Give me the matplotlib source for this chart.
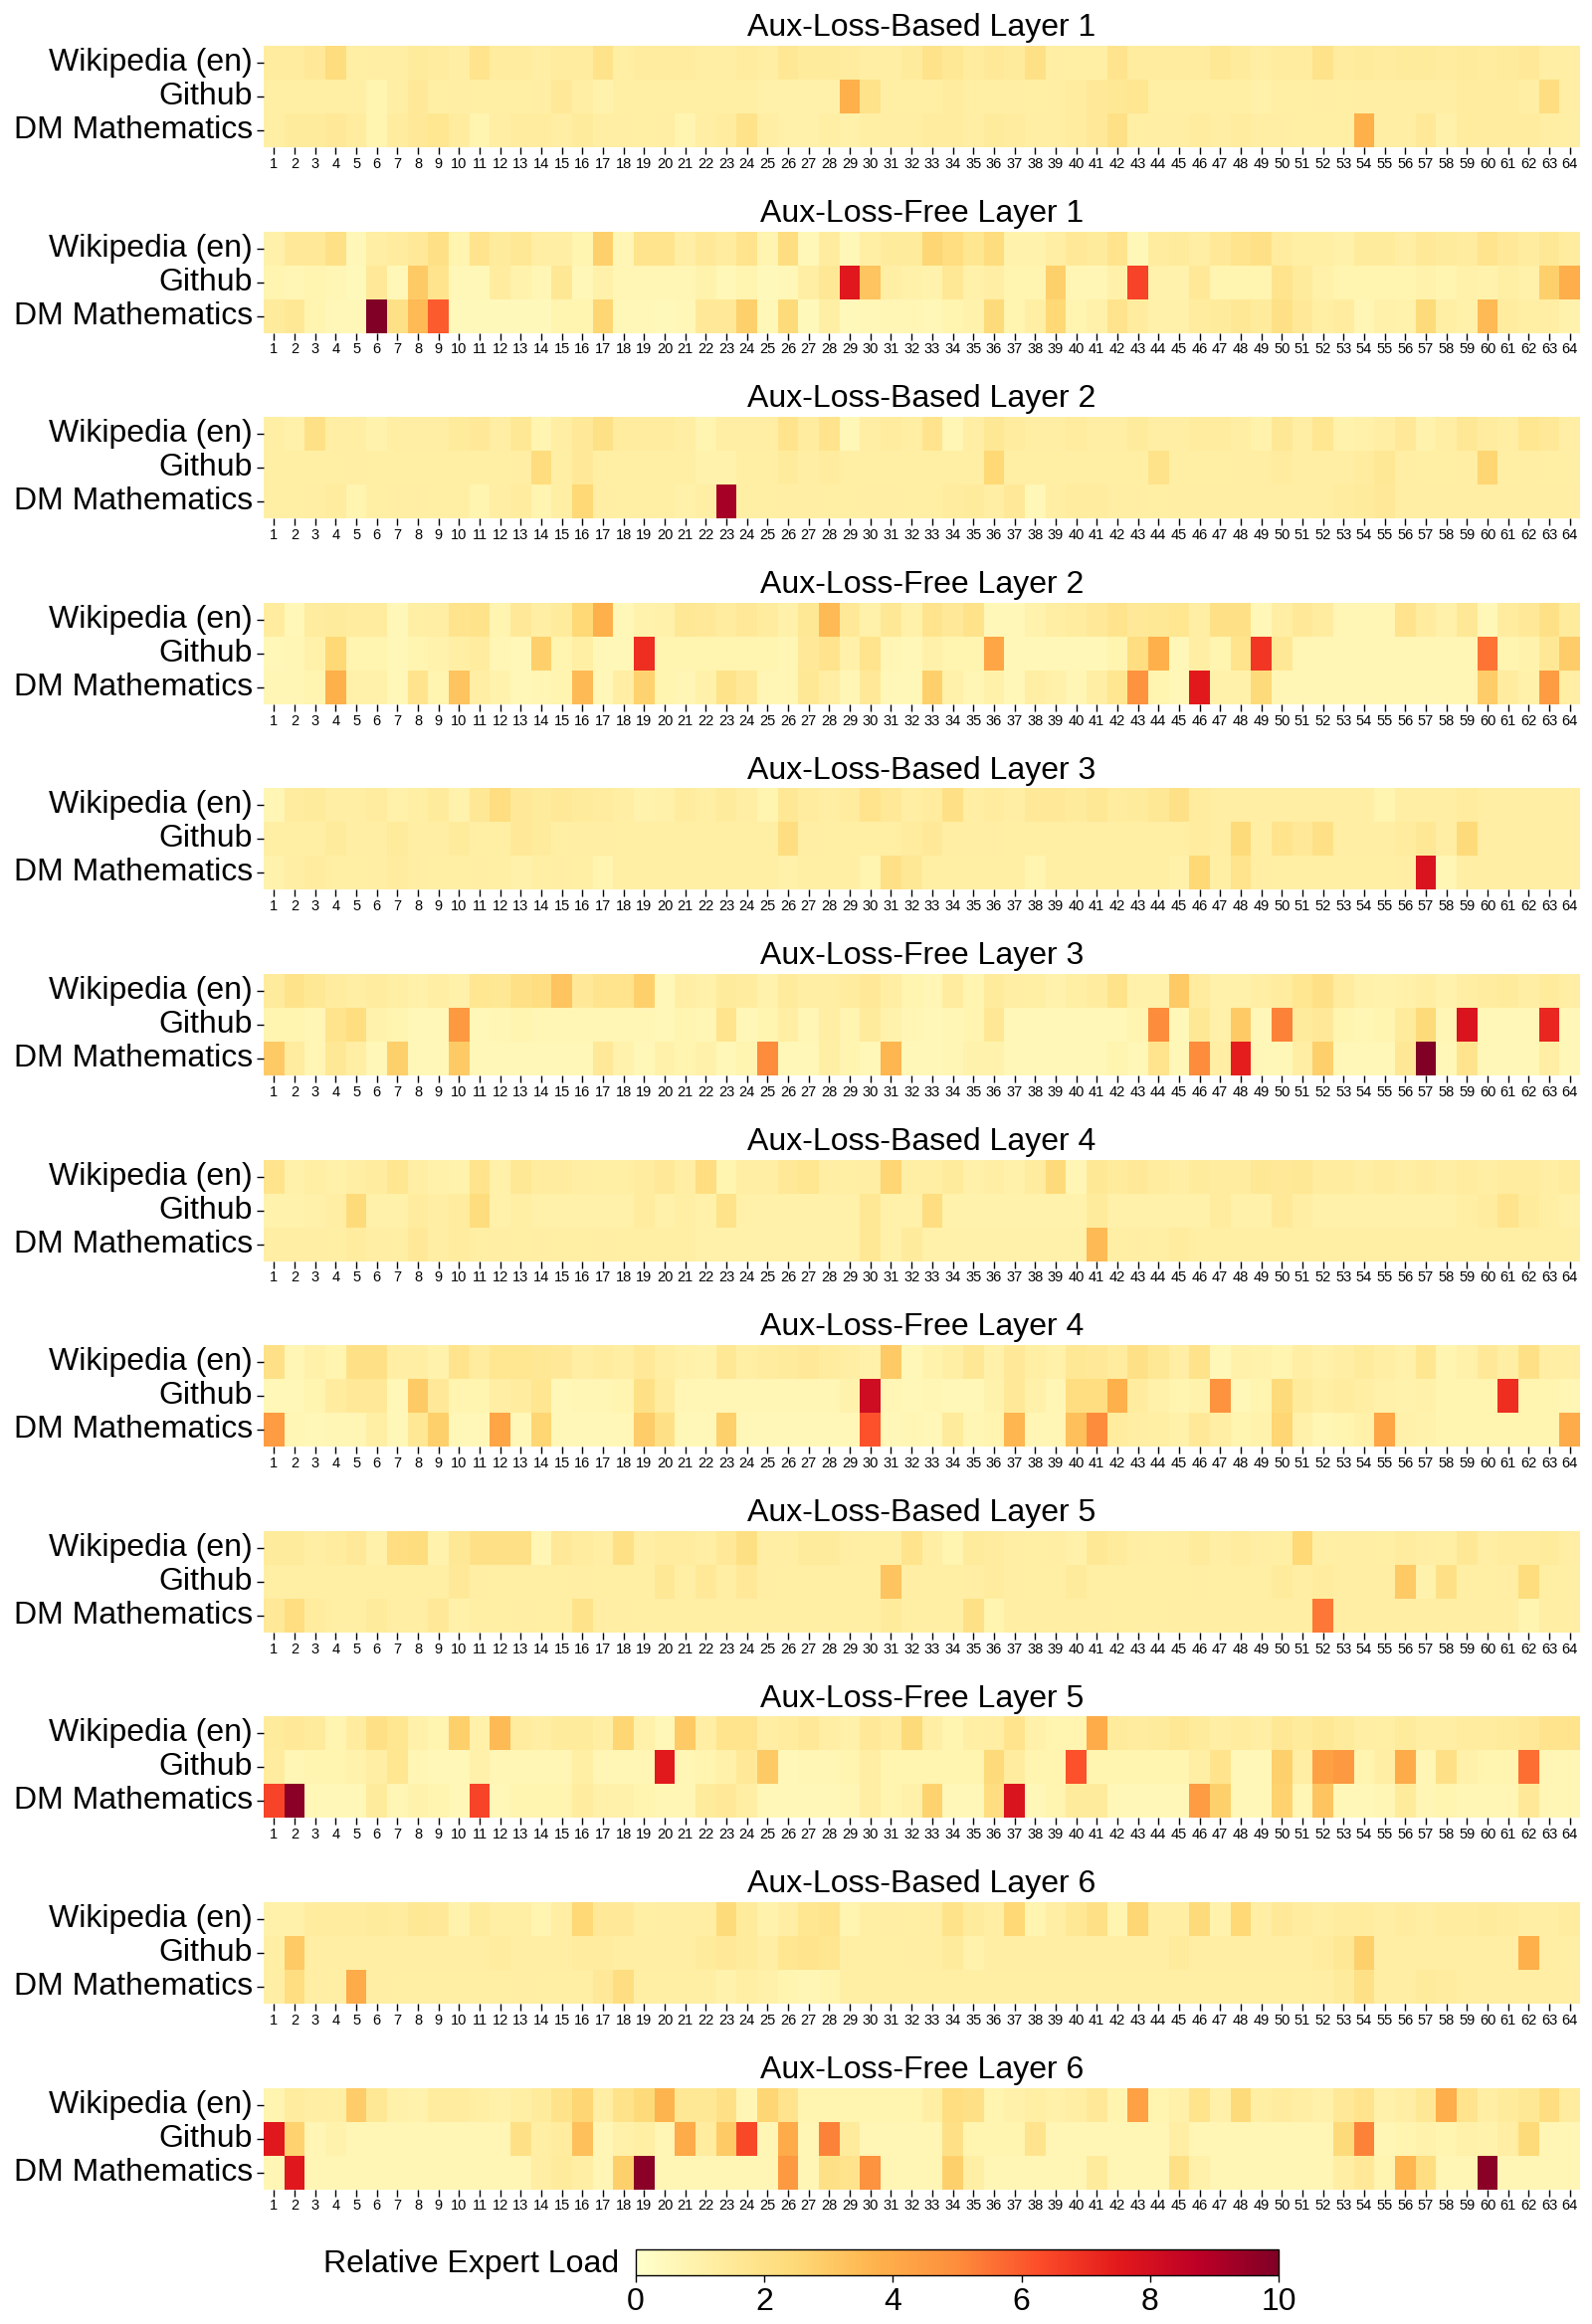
import numpy as np
import matplotlib
matplotlib.use("Agg")
import matplotlib.pyplot as plt

plt.rcParams['font.family'] = ['Liberation Sans', 'DejaVu Sans']

sources = ["Wikipedia (en)", "Github", "DM Mathematics"]
experts = [str(i) for i in range(1, 65)]
titles = ["Aux-Loss-Based Layer 1", "Aux-Loss-Free Layer 1",
          "Aux-Loss-Based Layer 2", "Aux-Loss-Free Layer 2",
          "Aux-Loss-Based Layer 3", "Aux-Loss-Free Layer 3",
          "Aux-Loss-Based Layer 4", "Aux-Loss-Free Layer 4",
          "Aux-Loss-Based Layer 5", "Aux-Loss-Free Layer 5",
          "Aux-Loss-Based Layer 6", "Aux-Loss-Free Layer 6"]
cbar_ticks = [0, 2, 4, 6, 8, 10]

aux_based_l1 = [
    [1.3,1.3,1.5,2.3,1.1,1.2,1.2,1.4, 1.3,1.2,1.8,1.3,1.3,1.2,1.3,1.3,
     1.9,1.1,1.3,1.3,1.3,1.2,1.2,1.3, 1.2,1.6,1.4,1.4,1.3,1.2,1.2,1.4,
     1.9,1.6,1.3,1.5,1.4,2.0,1.2,1.1, 1.1,1.8,1.3,1.3,1.3,1.3,1.6,1.4,
     1.2,1.3,1.3,1.9,1.3,1.4,1.3,1.4, 1.4,1.3,1.4,1.3,1.4,1.5,1.2,1.2],
    [1.1,1.1,1.1,1.1,1.1,0.8,1.1,1.5, 1.1,1.2,1.1,1.1,1.1,1.2,1.5,1.2,
     0.9,1.1,1.1,1.1,1.1,1.1,1.1,1.1, 1.0,1.0,1.0,1.0,3.8,1.9,1.1,1.1,
     1.1,1.3,1.1,1.1,1.2,1.1,1.2,1.3, 1.5,1.6,1.7,1.1,1.1,1.1,1.1,1.1,
     1.0,1.1,1.1,1.2,1.1,1.2,1.2,1.2, 1.2,1.2,1.3,1.3,1.3,1.2,2.2,1.2],
    [1.1,1.4,1.4,1.5,1.3,0.8,1.3,1.5, 1.7,1.3,0.8,1.2,1.3,1.3,1.2,1.4,
     1.2,1.2,1.1,1.2,0.8,1.2,1.3,1.9, 1.2,1.0,1.0,1.1,1.0,1.1,1.2,1.2,
     1.3,1.3,1.2,1.4,1.3,1.2,1.2,1.3, 1.5,2.0,1.1,1.2,1.2,1.3,1.2,1.3,
     1.2,1.2,1.1,1.1,1.1,3.8,1.2,1.2, 1.5,1.0,1.3,1.3,1.3,1.3,1.2,1.1]]

aux_free_l1 = [
    [1.0,1.5,1.5,2.0,0.6,1.2,1.3,1.5, 2.0,0.8,1.8,1.4,1.6,1.2,1.2,0.8,
     2.8,0.7,1.8,1.8,1.2,1.5,1.3,1.8, 0.8,2.2,0.6,1.3,0.6,1.1,1.4,1.4,
     2.6,2.2,1.7,2.3,0.9,0.9,1.2,1.5, 1.4,1.8,0.6,1.3,1.4,1.2,1.5,1.8,
     2.0,1.3,1.1,1.1,1.0,1.4,1.4,1.2, 1.5,1.4,1.3,1.8,1.5,1.3,1.6,1.3],
    [0.8,0.7,0.8,0.7,0.5,1.5,0.6,3.0, 1.8,0.6,0.6,1.3,0.9,0.7,1.6,0.6,
     1.0,0.7,0.7,0.7,0.7,0.9,0.6,0.8, 0.5,0.6,1.2,1.6,7.6,3.2,1.1,1.0,
     0.9,1.6,1.0,1.2,0.8,0.8,2.8,0.7, 0.7,1.0,6.5,0.9,0.9,1.5,0.8,0.8,
     0.8,1.8,1.4,1.0,0.8,0.8,0.8,0.8, 0.9,0.8,1.0,0.9,1.1,1.0,2.8,3.9],
    [1.4,1.6,0.8,0.6,0.6,10.0,2.0,3.5, 6.0,0.5,0.5,0.5,0.5,0.5,0.8,0.8,
     2.6,0.6,0.6,0.5,0.6,1.5,1.5,2.8, 0.6,2.4,0.5,1.1,0.5,0.6,0.7,0.7,
     0.6,0.8,0.9,2.4,0.8,1.1,2.5,0.8, 1.0,1.8,1.3,1.0,1.0,1.3,1.4,1.6,
     1.4,2.0,1.5,1.1,1.3,0.7,1.0,0.9, 2.4,1.1,1.0,3.5,1.3,1.1,1.2,0.9]]

aux_based_l2 = [
    [1.1,1.0,2.0,1.2,1.2,0.9,1.2,1.2, 1.2,1.4,1.5,1.2,1.6,0.8,1.2,1.5,
     2.0,1.3,1.3,1.3,1.2,0.8,1.2,1.2, 1.2,1.8,1.3,1.8,0.6,1.2,1.3,1.2,
     1.8,0.7,1.2,1.6,1.3,1.2,1.2,1.3, 1.2,1.2,1.4,1.2,1.2,1.3,1.3,1.2,
     0.9,1.6,1.2,1.7,0.9,1.0,1.2,1.5, 0.9,1.2,1.6,1.3,1.2,1.7,1.5,1.2],
    [1.1,1.1,1.1,1.1,1.2,1.1,1.1,1.1, 1.1,1.1,1.1,1.1,1.2,2.3,1.1,1.5,
     1.1,1.1,1.1,1.1,1.1,0.9,0.9,1.1, 1.1,1.4,1.2,1.3,1.1,1.1,1.1,1.1,
     1.1,1.1,1.1,2.5,1.1,1.1,1.1,1.1, 1.1,1.1,1.1,1.9,1.1,1.1,1.1,1.2,
     1.2,1.3,1.2,1.2,1.2,1.3,1.6,1.2, 1.1,1.1,1.2,2.6,1.1,1.2,1.1,1.1],
    [1.1,1.1,1.2,1.3,0.8,1.1,1.2,1.2, 1.1,1.1,0.8,1.2,1.3,0.8,1.1,2.5,
     1.2,1.1,1.1,1.1,1.0,1.1,9.2,1.1, 1.1,1.2,1.2,1.1,1.1,1.2,1.2,1.1,
     1.1,1.3,1.4,1.2,1.5,0.6,1.2,1.3, 1.3,1.2,1.2,1.1,1.2,1.2,1.2,1.2,
     1.2,1.2,1.2,1.2,1.3,1.4,1.5,1.2, 1.2,1.2,1.2,1.2,1.2,1.2,1.2,1.2]]

aux_free_l2 = [
    [1.3,0.6,1.3,1.4,1.3,1.3,0.6,1.1, 1.2,1.8,1.9,0.8,1.5,1.2,1.4,2.5,
     3.8,0.6,0.9,1.0,1.6,1.5,1.3,1.5, 1.3,1.0,1.6,3.5,1.5,1.0,1.6,1.0,
     1.8,1.5,1.9,0.6,0.6,0.9,1.2,1.3, 1.5,1.8,1.5,1.6,1.7,1.2,2.0,2.0,
     0.6,1.2,1.5,1.3,0.7,0.7,0.7,1.8, 1.3,1.0,1.6,0.6,1.3,1.5,2.0,1.4],
    [0.6,0.7,1.0,2.5,0.8,0.8,0.6,0.8, 0.9,1.1,1.3,0.7,0.6,2.8,0.8,1.1,
     0.6,0.6,7.0,0.8,0.8,0.8,0.8,0.8, 0.8,0.7,1.5,1.8,1.0,1.8,0.7,0.6,
     1.0,0.8,0.8,4.2,0.6,0.6,0.6,0.6, 0.6,0.8,2.2,3.8,0.6,1.2,0.8,1.8,
     6.8,1.6,0.7,0.7,0.7,0.7,0.7,0.7, 0.7,0.7,0.7,5.5,0.8,0.9,1.6,2.9],
    [0.7,0.7,0.8,3.8,1.0,1.0,0.6,1.8, 0.8,3.2,1.2,0.9,0.6,0.7,0.8,3.5,
     0.6,1.2,2.7,0.8,0.7,1.0,1.9,1.5, 0.7,0.7,1.6,1.2,0.7,1.5,0.6,0.6,
     2.8,1.0,0.7,1.0,0.6,1.2,1.0,0.7, 1.2,1.7,4.8,0.8,0.6,7.5,1.0,1.0,
     2.4,0.7,0.7,0.7,0.7,0.7,0.7,0.7, 0.7,0.7,0.7,2.9,1.3,1.0,4.5,1.2]]

aux_based_l3 = [
    [0.7,1.3,1.4,1.2,1.2,1.3,1.0,1.1, 1.4,0.9,1.6,2.2,1.5,1.4,1.5,1.4,
     1.3,1.2,0.9,1.0,1.3,1.1,1.4,1.2, 0.8,1.6,1.3,1.2,1.3,1.8,1.5,1.2,
     1.3,2.0,1.2,1.3,1.2,1.5,1.5,1.4, 1.6,1.3,1.4,1.6,2.0,1.3,1.2,1.2,
     1.2,1.2,1.2,1.2,1.2,1.2,0.8,1.2, 1.2,1.2,1.3,1.2,1.2,1.2,1.2,1.2],
    [1.1,1.1,1.1,1.4,1.2,1.2,1.4,1.2, 1.2,1.4,1.1,1.1,1.5,1.4,1.1,1.2,
     1.2,1.1,1.1,1.1,1.1,1.1,1.1,1.1, 1.1,2.2,1.2,1.1,1.1,1.1,1.1,1.3,
     1.5,1.2,1.2,1.2,1.1,1.1,1.1,1.1, 1.1,1.1,1.1,1.1,1.1,1.3,1.2,2.4,
     1.1,1.8,1.5,2.0,1.2,1.2,1.2,1.3, 1.6,1.2,2.4,1.2,1.2,1.2,1.2,1.2],
    [0.9,1.2,1.3,1.1,1.1,1.2,1.3,1.2, 1.1,1.1,1.2,1.1,1.0,1.1,1.2,1.1,
     0.8,1.1,1.1,1.1,1.1,1.1,1.1,1.1, 1.1,1.0,1.1,1.1,1.1,0.8,2.0,1.6,
     1.1,1.1,1.1,1.1,1.1,0.8,1.1,1.1, 1.1,1.1,1.1,1.1,1.0,2.5,1.1,1.8,
     1.2,1.1,1.1,1.1,1.1,1.1,1.1,1.2, 7.8,0.7,1.2,1.2,1.2,1.2,1.2,1.2]]

aux_free_l3 = [
    [1.4,1.9,1.6,1.3,1.2,1.3,1.1,1.0, 1.2,1.0,1.7,1.6,2.0,2.2,3.2,1.5,
     1.8,1.8,2.8,0.6,1.2,1.0,1.4,1.3, 0.9,1.4,1.2,1.2,1.3,1.5,1.2,0.8,
     0.7,1.3,0.8,1.4,1.2,1.1,0.9,1.1, 1.3,1.9,1.0,1.0,3.0,1.3,1.0,1.0,
     1.2,1.3,1.7,2.0,1.3,1.0,0.9,1.0, 1.2,0.9,1.2,1.3,1.4,1.2,1.4,1.2],
    [0.8,0.8,0.7,1.8,2.2,0.9,0.8,0.6, 0.6,4.6,0.6,0.7,0.8,0.7,0.7,0.7,
     0.7,0.7,0.7,0.6,0.8,0.7,1.8,0.6, 0.8,1.2,0.7,1.2,0.8,1.4,0.9,0.7,
     0.6,0.7,0.8,1.6,0.6,0.6,0.6,0.6, 0.6,0.6,0.8,5.0,0.6,1.6,1.0,3.0,
     0.6,5.2,1.4,1.5,0.8,0.7,0.8,1.4, 2.4,0.7,7.8,0.6,0.6,0.6,7.2,0.6],
    [3.0,1.3,0.7,1.6,1.2,0.6,2.8,0.6, 0.6,3.0,0.6,0.6,0.6,0.6,0.6,0.6,
     1.5,0.9,0.6,1.0,0.8,1.0,0.6,0.8, 5.0,0.6,0.6,1.1,0.8,0.6,3.6,0.6,
     0.6,0.7,0.9,0.9,0.6,0.6,0.6,0.6, 0.6,0.8,0.6,1.8,0.6,5.0,1.2,7.4,
     0.6,0.6,1.2,2.8,0.6,0.6,0.6,1.6, 10.0,0.6,1.8,0.6,0.6,0.6,1.2,0.6]]

aux_based_l4 = [
    [1.8,1.0,1.1,1.0,1.2,1.3,1.7,1.2, 1.0,0.9,1.8,1.0,1.6,1.3,1.3,1.2,
     1.1,1.1,1.3,1.5,1.2,2.2,0.8,1.2, 1.2,1.5,1.7,1.2,1.1,1.2,2.6,1.1,
     1.2,1.4,1.0,1.2,1.0,1.3,2.4,0.7, 1.6,1.4,1.5,1.3,1.2,1.4,1.3,1.3,
     1.6,1.5,1.6,1.3,1.3,1.2,1.3,1.2, 1.3,1.2,1.3,1.2,1.3,1.3,1.2,1.3],
    [0.9,0.9,1.0,1.2,2.4,1.0,1.0,1.3, 1.2,1.3,2.3,1.0,1.1,1.0,1.0,1.0,
     1.0,1.0,1.3,1.0,1.1,1.0,1.9,1.0, 1.0,1.0,1.0,1.0,1.0,1.6,1.0,1.0,
     2.2,0.9,0.9,0.9,0.9,0.9,0.9,0.9, 1.4,1.0,1.0,1.0,1.0,1.0,1.3,1.0,
     1.0,1.5,1.2,1.0,1.0,1.0,1.0,1.0, 1.0,1.0,1.1,1.3,1.8,1.4,1.1,1.0],
    [1.2,1.2,1.2,1.1,1.3,1.2,1.1,1.5, 1.2,1.3,1.1,1.2,1.1,1.2,1.1,1.1,
     1.2,1.1,1.1,1.1,1.1,1.0,1.0,1.0, 1.0,1.0,1.0,1.0,1.0,1.6,1.0,1.4,
     1.0,1.0,1.0,1.0,1.0,1.0,1.0,1.0, 3.5,1.1,1.2,1.1,1.3,1.1,1.1,1.1,
     1.1,1.1,1.1,1.1,1.1,1.1,1.1,1.1, 1.1,1.1,1.1,1.1,1.1,1.1,1.1,1.1]]

aux_free_l4 = [
    [2.0,0.7,1.0,0.8,2.0,2.0,1.2,1.2, 0.9,1.8,1.3,1.7,1.7,1.6,1.5,1.2,
     1.3,1.2,1.5,1.2,1.0,0.9,1.6,1.1, 1.3,1.4,1.5,1.3,1.2,1.0,3.0,0.6,
     0.9,1.1,1.6,1.0,1.5,1.1,1.0,1.6, 1.5,1.3,2.0,1.6,1.2,1.9,0.6,1.0,
     0.9,0.8,1.2,1.0,1.2,1.4,1.2,1.0, 1.7,0.8,1.0,1.5,1.1,2.0,1.2,1.2],
    [0.6,0.6,0.8,1.3,1.5,1.5,0.6,3.0, 1.5,0.8,0.8,1.2,1.3,1.7,0.6,0.7,
     0.7,0.8,2.0,1.3,0.7,0.7,0.7,0.7, 0.7,0.7,0.7,0.7,0.9,8.2,0.7,0.6,
     0.7,0.6,0.6,0.9,1.5,1.0,0.7,2.2, 2.2,3.8,1.3,1.0,0.8,0.9,4.8,0.6,
     0.8,2.4,1.4,1.1,1.3,1.2,1.0,0.9, 1.0,0.8,0.8,0.8,7.0,0.8,0.8,0.7],
    [4.5,0.7,0.6,0.7,0.7,1.1,0.6,1.6, 2.8,0.6,0.6,4.2,0.6,2.6,0.6,0.6,
     0.6,0.6,2.9,2.0,0.6,0.6,2.8,0.6, 0.6,0.6,0.6,0.6,0.6,6.2,0.6,0.7,
     0.6,1.4,0.7,0.8,3.6,0.7,0.7,3.3, 5.0,1.3,1.2,1.1,1.0,1.5,1.2,0.8,
     0.9,2.6,1.0,0.7,0.8,1.0,4.2,1.0, 0.9,0.8,0.8,0.8,0.8,0.8,0.8,4.0]]

aux_based_l5 = [
    [1.4,1.4,1.2,1.3,1.5,1.0,2.2,2.3, 0.9,1.6,2.0,2.0,2.0,0.7,1.5,1.3,
     1.2,2.0,1.2,1.3,1.3,1.2,1.5,2.1, 1.2,1.2,1.4,1.4,1.2,1.1,1.1,1.8,
     1.2,0.8,1.4,1.3,1.2,1.1,1.2,1.0, 1.6,1.4,1.2,1.1,1.2,1.4,1.2,1.3,
     1.2,1.1,2.5,1.1,1.2,1.2,1.1,1.3, 1.2,1.1,1.6,1.2,1.3,1.3,1.4,1.2],
    [1.1,1.1,1.1,1.1,1.1,1.1,1.1,1.1, 1.1,1.5,1.2,1.1,1.1,1.1,1.1,1.2,
     1.1,1.1,1.1,1.6,1.1,1.5,1.2,1.5, 1.2,1.1,1.1,1.1,1.1,1.1,3.2,1.2,
     1.1,1.1,1.2,1.3,1.2,1.1,1.1,1.4, 1.1,1.1,1.1,1.1,1.1,1.2,1.1,1.1,
     1.1,1.4,1.2,1.3,1.2,1.2,1.2,3.0, 0.9,2.0,1.1,1.1,1.2,2.3,1.1,1.1],
    [1.5,2.2,1.3,1.1,1.1,1.4,1.2,1.2, 1.5,1.0,1.1,1.1,1.2,1.1,1.1,1.9,
     1.2,1.2,1.1,1.1,1.1,1.1,1.1,1.1, 1.1,1.1,1.1,1.1,1.1,1.1,1.4,1.1,
     1.1,1.1,2.0,0.8,1.2,1.2,1.2,1.2, 1.2,1.1,1.1,1.1,1.2,1.2,1.2,1.2,
     1.2,1.2,1.2,5.4,1.2,1.2,1.2,1.2, 1.2,1.2,1.2,1.2,1.2,0.8,1.2,1.2]]

aux_free_l5 = [
    [1.4,1.5,1.4,0.8,1.3,2.0,1.7,1.0, 0.8,2.8,1.0,3.5,1.3,1.2,1.4,1.4,
     1.2,2.6,1.0,0.6,3.0,1.2,1.8,1.8, 1.2,1.3,1.5,1.2,1.0,1.5,1.3,2.4,
     1.2,0.8,1.1,1.2,1.8,1.0,0.8,0.8, 4.0,1.4,1.3,1.4,1.6,1.4,1.2,1.3,
     1.2,1.6,1.4,1.6,1.4,1.2,1.1,1.4, 1.2,1.2,1.3,1.3,1.4,1.5,1.8,1.8],
    [1.3,0.7,0.8,0.8,0.9,1.2,1.7,0.7, 0.6,0.6,1.0,0.7,0.7,0.7,0.7,1.1,
     0.7,0.7,0.7,7.5,0.7,0.8,1.0,1.5, 3.0,0.6,0.7,0.7,0.8,1.2,0.8,0.8,
     0.8,0.8,0.8,2.4,1.3,0.8,0.8,6.2, 0.8,0.8,0.8,0.8,0.8,1.1,1.8,0.6,
     0.6,2.8,1.2,4.3,4.6,0.8,1.2,4.0, 0.7,2.0,1.0,0.8,0.8,5.6,0.7,0.7],
    [6.5,9.8,0.6,0.6,0.6,1.4,0.7,0.9, 0.8,0.6,6.5,0.6,0.8,0.8,0.8,1.3,
     1.0,1.0,0.8,0.7,0.7,1.4,1.5,1.2, 0.6,0.6,0.6,0.6,0.7,1.2,0.8,1.0,
     2.7,0.6,0.6,2.2,7.8,0.6,0.8,1.4, 1.4,0.6,0.6,0.6,0.6,4.5,2.8,0.6,
     0.6,2.7,0.7,3.2,0.6,0.6,0.7,1.4, 0.7,0.8,0.7,0.7,0.7,1.5,0.7,0.7]]

aux_based_l6 = [
    [1.0,1.0,1.3,1.3,1.3,1.4,1.3,1.6, 1.5,0.9,1.4,1.1,1.1,0.8,1.2,2.5,
     1.5,1.5,1.1,1.2,1.2,1.2,2.4,1.4, 0.9,1.2,1.7,1.8,0.8,1.1,1.2,1.1,
     1.2,1.9,1.4,1.2,2.5,0.8,1.2,1.6, 2.0,0.8,2.6,1.2,1.2,2.4,0.9,2.5,
     1.2,1.5,1.3,1.2,1.3,1.3,1.2,1.3, 1.2,1.3,1.3,1.4,1.3,1.2,1.2,1.3],
    [1.1,3.0,1.2,1.2,1.2,1.2,1.2,1.2, 1.2,1.2,1.2,1.3,1.2,1.2,1.2,1.3,
     1.3,1.2,1.2,1.2,1.2,1.4,1.5,1.4, 1.2,1.7,1.8,1.7,1.1,1.1,1.1,1.2,
     1.2,1.4,0.9,1.2,1.2,1.2,1.2,1.2, 1.2,1.2,1.2,1.2,1.4,1.2,1.2,1.2,
     1.2,1.2,1.2,1.3,1.6,2.8,1.2,1.2, 1.2,1.2,1.2,1.2,1.2,3.8,1.2,1.1],
    [1.1,2.2,1.2,1.1,4.0,1.2,1.1,1.1, 1.1,1.1,1.1,1.1,1.2,1.1,1.1,1.1,
     1.5,2.2,1.1,1.1,1.1,1.1,0.9,1.1, 1.0,0.8,0.7,0.8,1.1,1.1,1.1,1.1,
     1.1,1.1,1.1,1.1,1.1,1.1,1.1,1.1, 1.1,1.1,1.1,1.1,1.1,1.1,1.1,1.1,
     1.1,1.1,1.1,1.2,1.4,2.0,1.2,1.2, 1.4,1.3,1.2,1.2,1.2,1.2,1.2,1.2]]

aux_free_l6 = [
    [0.8,1.3,1.2,1.1,2.9,1.6,1.0,0.9, 1.3,1.3,1.1,1.0,1.1,1.4,1.9,2.6,
     1.2,1.9,2.4,3.7,1.6,1.6,2.0,0.7, 2.6,1.8,0.8,0.8,0.8,0.8,0.8,0.8,
     1.1,2.2,2.0,0.8,1.0,1.1,1.0,1.2, 1.5,0.8,4.3,0.8,1.0,1.8,1.0,2.4,
     1.1,1.3,1.2,1.0,1.5,1.8,1.0,1.2, 1.6,3.9,1.8,1.2,1.4,1.6,2.2,1.3],
    [7.6,2.7,0.7,0.9,0.7,0.7,0.7,0.7, 0.7,0.7,0.7,0.7,2.0,1.1,1.3,3.3,
     0.7,1.0,1.1,0.7,4.0,1.3,3.0,6.4, 0.7,4.0,0.7,5.2,1.4,0.7,0.7,0.7,
     0.7,2.0,0.8,0.8,0.8,1.8,0.7,0.7, 0.7,0.7,0.7,0.7,1.2,0.7,0.7,0.7,
     0.7,0.7,0.7,0.7,2.4,5.2,0.7,0.8, 0.9,0.8,1.0,0.9,1.2,2.4,0.7,0.7],
    [0.7,7.6,0.7,0.7,0.7,0.7,0.7,0.7, 0.7,0.7,0.7,0.7,0.7,1.2,1.4,1.2,
     0.7,2.8,9.8,0.7,0.7,0.7,0.7,0.7, 0.7,4.6,0.7,2.0,1.8,4.8,0.7,0.7,
     0.7,2.8,1.1,0.7,0.7,0.7,0.7,0.7, 1.4,0.7,0.7,0.7,2.0,1.0,0.7,0.7,
     0.7,0.7,0.7,0.7,1.2,1.5,0.8,3.6, 2.2,0.7,0.7,9.8,0.7,0.7,0.7,0.7]]

panels = [aux_based_l1, aux_free_l1, aux_based_l2, aux_free_l2,
          aux_based_l3, aux_free_l3, aux_based_l4, aux_free_l4,
          aux_based_l5, aux_free_l5, aux_based_l6, aux_free_l6]

W, H = 1600, 2336
fig = plt.figure(figsize=(W / 100, H / 100), dpi=100)
cmap = plt.get_cmap('YlOrRd')

left_px, right_px = 265, 1588
top0, step, hm_h = 46, 186.6, 102

mesh = None
for k, (data, title) in enumerate(zip(panels, titles)):
    top = top0 + step * k
    ax = fig.add_axes([left_px / W, 1 - (top + hm_h) / H,
                       (right_px - left_px) / W, hm_h / H])
    arr = np.array(data)
    mesh = ax.pcolormesh(np.arange(65), np.arange(4), arr, cmap=cmap,
                         vmin=0, vmax=10, shading='flat')
    ax.set_xlim(0, 64)
    ax.set_ylim(3, 0)
    ax.set_xticks(np.arange(64) + 0.5)
    ax.set_xticklabels(experts, fontsize=10.5)
    ax.set_yticks(np.arange(3) + 0.5)
    ax.set_yticklabels(sources, fontsize=23, va='center')
    ax.tick_params(axis='x', length=5, width=1, pad=2)
    ax.tick_params(axis='y', length=5, width=1, pad=3)
    for s in ax.spines.values():
        s.set_visible(False)
    ax.set_title(title, fontsize=23, pad=7)

cax = fig.add_axes([639 / W, 1 - 2287 / H, 646 / W, 26 / H])
cb = fig.colorbar(mesh, cax=cax, orientation='horizontal', ticks=cbar_ticks)
cb.ax.tick_params(labelsize=23, length=5, width=1)
cb.outline.set_linewidth(1)
fig.text(622 / W, 1 - 2276 / H, "Relative Expert Load", fontsize=23,
         ha='right', va='center')

fig.savefig("out.png", dpi=100)
